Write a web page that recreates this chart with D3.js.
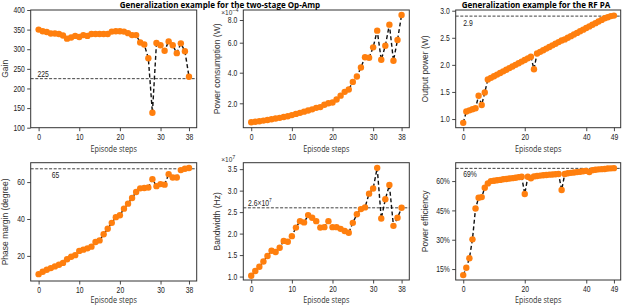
<!DOCTYPE html>
<html>
<head>
<meta charset="utf-8">
<script src="https://cdn.jsdelivr.net/npm/d3@7"></script>
<style>
  body { margin: 0; background: #fff; }
  svg { display: block; }
  .tick text { font-family: "Liberation Sans", Arial, sans-serif; font-size: 8.5px; fill: #222;
    transform-box: fill-box; transform: scaleX(0.8); }
  .x-ax .tick text { transform-origin: center; }
  .y-ax .tick text { transform-origin: right; }
  .sq-left { transform-box: fill-box; transform-origin: left; transform: scaleX(0.8); }
  .sq-mid { transform-box: fill-box; transform-origin: center; transform: scaleX(0.85); }
  .domain { display: none; }
</style>
</head>
<body>
<svg id="chart" width="623" height="306"></svg>
<script>
// Op-Amp episode (steps 0..37, last tick labelled 38)
const opSteps = d3.range(0, 38);
const gain = [350, 346, 344, 340, 340, 339, 335, 327, 330, 334, 331, 336, 334, 339, 339, 339, 339, 339, 345, 346,
  346, 345, 341, 336, 336, 317, 312, 277, 138, 316, 310, 296, 320, 310, 290, 315, 295, 230];
const powerCons = [0.75, 0.78, 0.82, 0.86, 0.9, 0.95, 1.0, 1.04, 1.1, 1.15, 1.22, 1.3, 1.37, 1.45, 1.52, 1.6, 1.7, 1.75,
  1.9, 2.0, 2.05, 2.25, 2.5, 2.75, 2.9, 3.4, 3.75, 4.35, 5.03, 5.0, 5.69, 7.06, 4.86, 5.8, 7.59, 4.8, 6.24, 8.44]; // x1e-4
const phaseMargin = [10.1, 11.4, 12.5, 13.4, 14.3, 15.2, 16.2, 18.2, 19.5, 20.4, 22.7, 23.4, 24.1, 25, 27.5, 28.4, 31.7,
  34.7, 37.9, 41, 42, 45.6, 48.3, 51.4, 54.6, 56.6, 56.8, 57.1, 61.6, 57.8, 58.9, 58.6, 64.3, 62.5, 62.5, 66.5, 67.2, 67.6];
const bandwidth = [1.02, 1.13, 1.23, 1.35, 1.48, 1.6, 1.57, 1.67, 1.83, 1.81, 1.94, 2.14, 2.29, 2.26, 2.43, 2.37, 2.29,
  2.14, 2.15, 2.29, 2.15, 2.15, 2.11, 2.06, 2.02, 2.25, 2.45, 2.57, 2.61, 2.93, 3.05, 3.53, 2.35, 2.8, 3.13, 2.18, 2.37, 2.6]; // x1e7

// RF PA episode (steps 0..49)
const paSteps = d3.range(0, 50);
const outPower = [0.93, 1.14, 1.16, 1.18, 1.2, 1.43, 1.26, 1.49, 1.73, 1.76, 1.79, 1.82, 1.85, 1.88, 1.91, 1.94, 1.97,
  2.0, 2.03, 2.06, 2.09, 2.12, 2.15, 1.92, 2.21, 2.24, 2.27, 2.3, 2.33, 2.36, 2.39, 2.42, 2.45, 2.47, 2.5, 2.53, 2.56,
  2.59, 2.62, 2.65, 2.68, 2.71, 2.74, 2.77, 2.8, 2.83, 2.86, 2.88, 2.9, 2.91];
const efficiency = [11.9, 15.7, 20.5, 30.2, 46, 51.5, 51.8, 56.6, 58.8, 60, 60.2, 60.4, 60.6, 60.9, 61.1, 61.3, 61.5,
  61.7, 62, 62.2, 53.4, 62.2, 61.4, 62.4, 62.6, 62.8, 63, 63.1, 63.3, 63.4, 63.5, 63.6, 55.4, 63.6, 64, 64.2, 64.4,
  64.6, 64.8, 65, 65.2, 64.6, 65.6, 65.8, 66, 66.1, 66.2, 66.4, 66.5, 66.6];

const opTicks = [0, 10, 20, 30, 37];
const opTickLabels = ['0', '10', '20', '30', '38'];
const paTicks = [0, 20, 40, 49];

const svg = d3.select('#chart');
const orange = '#ff7f0e';

function panel(cfg) {
  const { box, xDomain, steps, values } = cfg;
  const x = d3.scaleLinear().domain(xDomain).range([box.left, box.right]);
  // the power-consumption axis in the source has uneven tick spacing, so a polylinear scale is allowed
  const y = cfg.yStops
    ? d3.scaleLinear().domain(cfg.yStops.map(s => s[0])).range(cfg.yStops.map(s => s[1]))
    : d3.scaleLinear().domain(cfg.yDomain).range([box.bottom, box.top]);
  const g = svg.append('g');

  const xAxis = d3.axisBottom(x).tickValues(cfg.xTicks).tickSize(3.5).tickPadding(2.5)
    .tickFormat((d, i) => cfg.xLabels ? cfg.xLabels[i] : d);
  g.append('g').attr('class', 'x-ax').attr('transform', 'translate(0,' + box.bottom + ')').call(xAxis);

  const yAxis = d3.axisLeft(y).tickValues(cfg.yTicks).tickSize(3.5).tickPadding(2.5).tickFormat(cfg.yFormat);
  g.append('g').attr('class', 'y-ax').attr('transform', 'translate(' + box.left + ',0)').call(yAxis);
  g.selectAll('.tick line').attr('stroke', '#333').attr('stroke-width', 0.9);

  // threshold line
  if (cfg.ref) {
    g.append('line')
      .attr('x1', box.left).attr('x2', box.right)
      .attr('y1', y(cfg.ref.value)).attr('y2', y(cfg.ref.value))
      .attr('stroke', '#111').attr('stroke-width', 0.8).attr('stroke-dasharray', '3,1.6');
    const t = g.append('text').attr('class', 'sq-left')
      .attr('x', x(cfg.ref.at))
      .attr('y', y(cfg.ref.value) + cfg.ref.dy)
      .style('font-family', '"Liberation Sans", Arial, sans-serif')
      .style('font-size', '8.5px').attr('fill', '#222')
      .text(cfg.ref.text);
    if (cfg.ref.sup) {
      t.append('tspan').attr('dy', -3.5).style('font-size', '6px').text(cfg.ref.sup);
    }
  }

  const line = d3.line().x((d, i) => x(steps[i])).y(d => y(d));
  g.append('path').datum(values)
    .attr('d', line).attr('fill', 'none')
    .attr('stroke', '#111').attr('stroke-width', 1.4).attr('stroke-dasharray', '4,2.6');

  g.selectAll('circle').data(values).join('circle')
    .attr('cx', (d, i) => x(steps[i])).attr('cy', d => y(d))
    .attr('r', 3.2).attr('fill', orange);

  g.append('rect')
    .attr('x', box.left).attr('y', box.top)
    .attr('width', box.right - box.left).attr('height', box.bottom - box.top)
    .attr('fill', 'none').attr('stroke', '#333').attr('stroke-width', 1);

  // axis titles
  g.append('text')
    .attr('transform', 'translate(' + cfg.yLabelX + ',' + (box.top + box.bottom) / 2 + ') rotate(-90)')
    .attr('text-anchor', 'middle')
    .style('font-family', '"Liberation Sans", Arial, sans-serif').style('font-size', '8.5px').attr('fill', '#333')
    .text(cfg.yLabel);
  g.append('text').attr('class', 'sq-mid')
    .attr('x', (box.left + box.right) / 2).attr('y', cfg.xLabelY)
    .attr('text-anchor', 'middle')
    .style('font-family', '"Open Sans", sans-serif').style('font-size', '8.5px').attr('fill', '#333')
    .text('Episode steps');

  if (cfg.offset) {
    const t = g.append('text').attr('x', box.left - 22).attr('y', cfg.offset.y)
      .style('font-family', '"Liberation Sans", Arial, sans-serif').style('font-size', '6.5px').attr('fill', '#333')
      .text('\u00d710');
    t.append('tspan').attr('dy', -3).style('font-size', '5.5px').text(cfg.offset.exp);
  }
  return g;
}

const fmt1 = d3.format('.1f');

panel({
  box: { left: 30.7, top: 10, right: 196.7, bottom: 127.7 },
  xDomain: [-1.95, 38.9], yDomain: [100, 400], steps: opSteps, values: gain,
  xTicks: opTicks, xLabels: opTickLabels, yTicks: d3.range(100, 401, 50), yFormat: d3.format('d'),
  yLabel: 'Gain', yLabelX: 8, xLabelY: 152,
  ref: { value: 225, at: -0.3, dy: -1.5, text: '225' }
});

panel({
  box: { left: 243.3, top: 10, right: 409.3, bottom: 127.7 },
  xDomain: [-1.95, 38.9], steps: opSteps, values: powerCons,
  yStops: [[0.39, 127.7], [2, 103.3], [4, 72.7], [6, 42.7], [8, 20], [8.88, 10]],
  xTicks: opTicks, xLabels: opTickLabels, yTicks: [2, 4, 6, 8], yFormat: fmt1,
  yLabel: 'Power consumption (W)', yLabelX: 220, xLabelY: 152, offset: { exp: '\u22124', y: 15 }
});

panel({
  box: { left: 455.7, top: 10, right: 620.7, bottom: 127.7 },
  xDomain: [-2.45, 51.2], yDomain: [0.84, 3.013], steps: paSteps, values: outPower,
  xTicks: paTicks, yTicks: [1, 1.5, 2, 2.5, 3], yFormat: fmt1,
  yLabel: 'Output power  (W)', yLabelX: 428, xLabelY: 152,
  ref: { value: 2.9, at: 0, dy: 10, text: '2.9' }
});

panel({
  box: { left: 30.7, top: 162.7, right: 196.7, bottom: 281 },
  xDomain: [-1.95, 38.9], yDomain: [6.4, 70.5], steps: opSteps, values: phaseMargin,
  xTicks: opTicks, xLabels: opTickLabels, yTicks: [20, 40, 60], yFormat: d3.format('d'),
  yLabel: 'Phase margin (degree)', yLabelX: 8, xLabelY: 303.5,
  ref: { value: 67.2, at: 3.2, dy: 9.5, text: '65' }
});

panel({
  box: { left: 243.3, top: 162.7, right: 409.3, bottom: 280 },
  xDomain: [-1.95, 38.9], yDomain: [0.92, 3.65], steps: opSteps, values: bandwidth,
  xTicks: opTicks, xLabels: opTickLabels, yTicks: [1, 1.5, 2, 2.5, 3, 3.5], yFormat: fmt1,
  yLabel: 'Bandwidth (Hz)', yLabelX: 220, xLabelY: 303.5, offset: { exp: '7', y: 162 },
  ref: { value: 2.6, at: -0.8, dy: -2, text: '2.6\u00d710', sup: '7' }
});

panel({
  box: { left: 455.7, top: 162.7, right: 620.7, bottom: 280 },
  xDomain: [-2.45, 51.2], yDomain: [9.4, 69.4], steps: paSteps, values: efficiency,
  xTicks: paTicks, yTicks: [15, 30, 45, 60], yFormat: d => d + '%',
  yLabel: 'Power efficiency', yLabelX: 428, xLabelY: 303.5,
  ref: { value: 66.5, at: 0, dy: 9, text: '69%' }
});

// titles
svg.append('text').attr('x', 220).attr('y', 7.5).attr('text-anchor', 'middle')
  .style('font-family', '"Open Sans", sans-serif').style('font-size', '8px').style('font-weight', 'bold')
  .text('Generalization example for the two-stage Op-Amp');
svg.append('text').attr('x', 536).attr('y', 7.5).attr('text-anchor', 'middle')
  .style('font-family', '"Open Sans", sans-serif').style('font-size', '8px').style('font-weight', 'bold')
  .text('Generalization example for the RF PA');
</script>
</body>
</html>
